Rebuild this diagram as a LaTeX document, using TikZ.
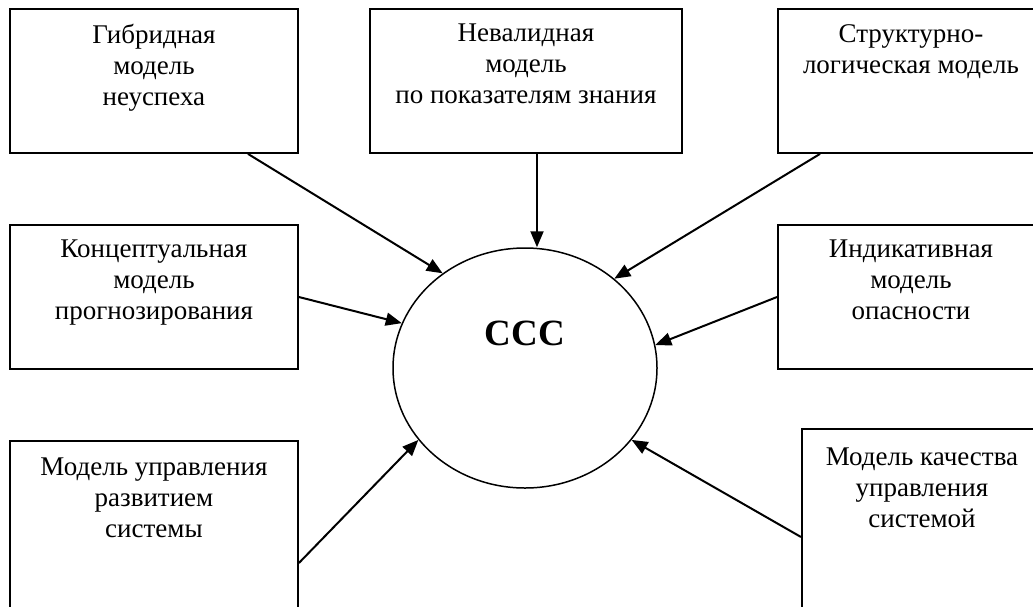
\documentclass[tikz,border=0pt]{standalone}
\usepackage{fontspec}
\setmainfont{Liberation Serif}
\usetikzlibrary{arrows.meta,shapes.geometric}
\begin{document}
\begin{tikzpicture}[x=1pt,y=-1pt,
  box/.style={draw, line width=1.9pt, inner sep=0pt, anchor=north west},
  txt/.style={align=center, font=\fontsize{27}{31}\selectfont, inner sep=0pt, anchor=north},
  arr/.style={line width=2pt, -{Triangle[length=16pt,width=13pt]}}]
\useasboundingbox (0,0) rectangle (1033,606);
% boxes
\node[box, minimum width=288pt, minimum height=144pt] (tl) at (9,8) {};
\node[box, minimum width=312pt, minimum height=144pt] (tm) at (369,8) {};
\node[box, minimum width=266pt, minimum height=144pt] (tr) at (777,8) {};
\node[box, minimum width=288pt, minimum height=144pt] (ml) at (9,224) {};
\node[box, minimum width=266pt, minimum height=144pt] (mr) at (777,224) {};
\node[box, minimum width=288pt, minimum height=180pt] (bl) at (9,440) {};
\node[box, minimum width=240pt, minimum height=190pt] (br) at (801,428) {};
% texts
\node[txt] (tlt) at ([yshift=-16pt]tl.north) {Гибридная\\модель\\неуспеха};
\node[txt] (tmt) at ([yshift=-16pt]tm.north) {Невалидная\\модель\\по показателям знания};
\node[txt] (trt) at ([yshift=-16pt]tr.north) {Структурно-\\логическая модель};
\node[txt] (mlt) at ([yshift=-16pt]ml.north) {Концептуальная\\модель\\прогнозирования};
\node[txt] (mrt) at ([yshift=-16pt]mr.north) {Индикативная\\модель\\опасности};
\node[txt] (blt) at ([yshift=-18pt]bl.north) {Модель управления\\развитием\\системы};
\node[txt] (brt) at ([yshift=-20pt]br.north) {Модель качества\\управления\\системой};
% centre
\node[draw, ellipse, line width=1.5pt, inner sep=0pt, minimum width=264pt, minimum height=240pt] (c) at (525,368) {};
\node[font=\fontsize{37}{40}\selectfont\bfseries, inner sep=0pt] (lbl) at (525,333) {ССС};
% arrows
\draw[arr] ([xshift=239pt]tl.south west) -- (c.131.5);
\draw[arr] ([xshift=168pt]tm.south west) -- ([xshift=12pt]c.north);
\draw[arr] ([xshift=43pt]tr.south west) -- (c.45.9);
\draw[arr] ([yshift=-73pt]ml.north east) -- (c.160);
\draw[arr] ([yshift=-73pt]mr.north west) -- (c.10.2);
\draw[arr] ([yshift=-123pt]bl.north east) -- (c.214.4);
\draw[arr] ([yshift=-109pt]br.north west) -- (c.326.3);
\end{tikzpicture}
\end{document}
